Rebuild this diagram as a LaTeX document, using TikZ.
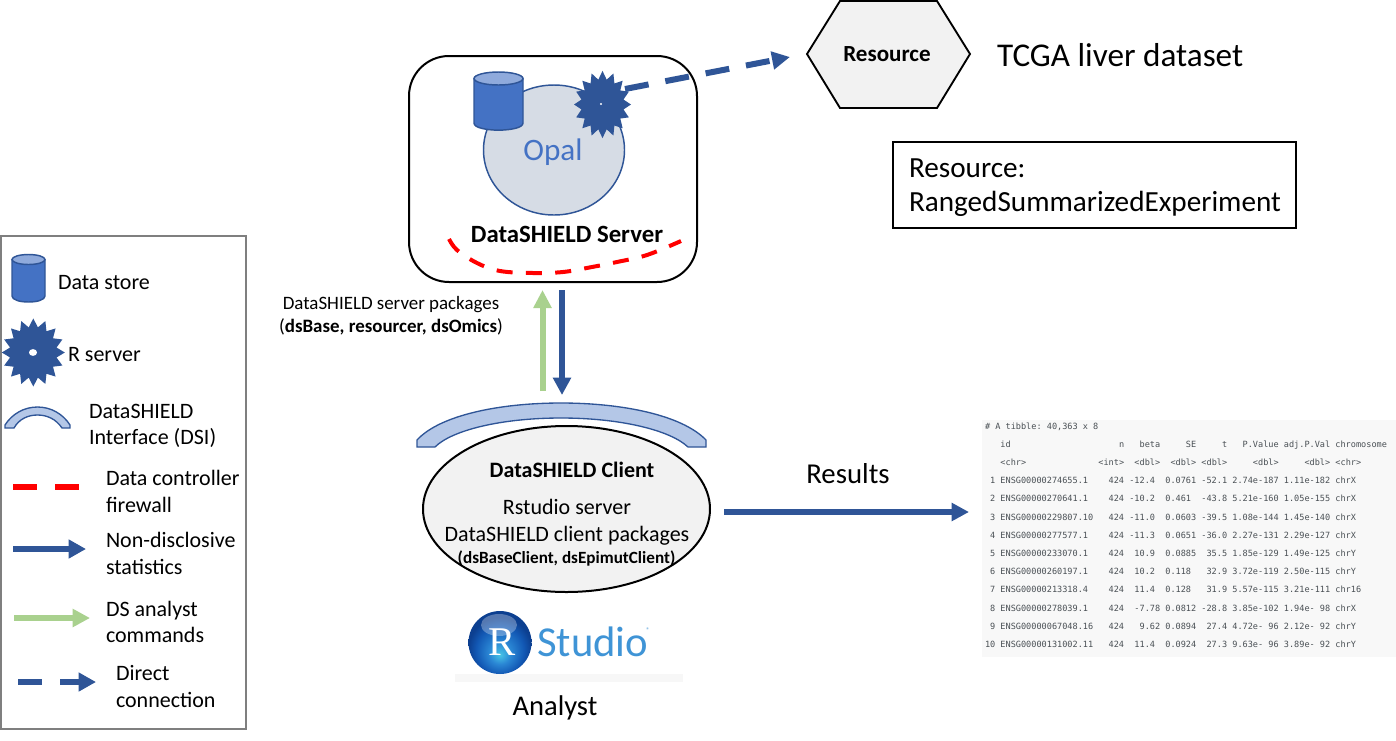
\documentclass[tikz,border=0pt]{standalone}
\usepackage{fontspec}
\setmainfont{Carlito}
\newfontfamily\tbfont{DejaVu Sans Mono}
\newfontfamily\rfont{Liberation Serif}
\usetikzlibrary{shapes.geometric,arrows.meta}
\definecolor{dblue}{HTML}{2F5597}
\definecolor{mblue}{HTML}{4472C4}
\definecolor{lblue}{HTML}{B4C7E7}
\definecolor{topblue}{HTML}{8FAADC}
\definecolor{lgreen}{HTML}{A9D18E}
\definecolor{opalfill}{HTML}{D6DCE5}
\definecolor{pale}{HTML}{F2F2F2}
\definecolor{frame}{HTML}{7F7F7F}
\definecolor{tbtext}{HTML}{4A5055}
\definecolor{tbback}{HTML}{F8F8F8}
\definecolor{studio}{HTML}{3F94D6}
\definecolor{ballA}{HTML}{48C4E6}
\definecolor{ballB}{HTML}{2A86D4}
\definecolor{ballC}{HTML}{1258B4}
\definecolor{ballD}{HTML}{0C3F90}
\pgfdeclareradialshading{rball}{\pgfpoint{0bp}{-10bp}}{%
  color(0bp)=(ballA);color(9bp)=(ballB);color(19bp)=(ballC);color(25bp)=(ballD);color(50bp)=(ballD)}
\tikzset{
  x=0.75pt,y=-0.75pt,
  txt/.style={anchor=base west,inner sep=0pt,outer sep=0pt,font=\fontsize{16.5}{19}\selectfont,text=black},
  ctr/.style={anchor=base,inner sep=0pt,outer sep=0pt,font=\fontsize{16.5}{19}\selectfont,text=black},
  small/.style={ctr,font=\fontsize{14.2}{16}\selectfont},
  tb/.style={anchor=base west,inner sep=0pt,outer sep=0pt,text=tbtext,font=\tbfont\fontsize{6.42}{8}\selectfont},
  rstar/.style={star,star points=16,star point ratio=1.33,fill=dblue,draw=none,inner sep=0pt,minimum size=#1,transform shape},
  blueline/.style={line width=4.5pt,dblue,-{Triangle[length=13pt,width=13pt]}},
  greenline/.style={line width=4.5pt,lgreen,-{Triangle[length=13.5pt,width=13pt]}},
  dashline/.style={line width=4.5pt,dblue,dash pattern=on 18pt off 12.8pt,-{Triangle[length=13.5pt,width=13pt]}},
  legblue/.style={line width=4pt,dblue,-{Triangle[length=13pt,width=13.5pt]}},
  leggreen/.style={line width=4pt,lgreen,-{Triangle[length=13pt,width=13pt]}},
  fwall/.style={line width=3pt,red,dash pattern=on 12pt off 10pt},
  cylfill/.style={fill=mblue,draw=dblue,line width=1.1pt},
  cyltop/.style={fill=topblue,draw=dblue,line width=1.1pt},
  dsi/.style={fill=lblue,draw=dblue,line width=1pt},
}
\begin{document}
\begin{tikzpicture}
\useasboundingbox (0,0) rectangle (1396,740);
\fill[white] (0,0) rectangle (1396,740);

% Legend frame
\draw[frame,line width=1.5pt,fill=white] (1,236) rectangle (246,729);
% Legend cylinder
\draw[cylfill] (12,260) -- (12,296) .. controls (12,304) and (45,304) .. (45,296) -- (45,260) -- cycle;
\draw[cyltop] (28.5,259.5) ellipse[x radius=16.5,y radius=5];
\node[txt] (lgStore) at (58,289) {Data store};
% Legend star
\node[rstar=63*0.75pt,yscale=1.08] (lgStar) at (33.3,352.5) {};
\fill[white] (33,352.5) ellipse[x radius=4,y radius=3.4];
\node[txt] (lgR) at (68,361) {R server};
% Legend DSI
\draw[dsi] (5,428) -- (5,425) .. controls (12,414) and (24,407) .. (37.5,407) .. controls (51,407) and (63,414) .. (70,425) -- (70,428) -- (62,428) .. controls (56,419) and (47,415) .. (37.5,415) .. controls (28,415) and (19,419) .. (14,428) -- cycle;
\node[txt] (lgDsi1) at (89,418) {DataSHIELD};
\node[txt] (lgDsi2) at (89,444) {Interface (DSI)};
% Legend firewall
\coordinate (lgF1) at (13,487); \coordinate (lgF2) at (37,487);
\coordinate (lgF3) at (55,487); \coordinate (lgF4) at (79,487);
\draw[red,line width=4.5pt] (lgF1) -- (lgF2) (lgF3) -- (lgF4);
\node[txt] (lgFw1) at (106,485) {Data controller};
\node[txt] (lgFw2) at (106,512) {firewall};
% Legend arrows
\coordinate (lgB1) at (13,549); \coordinate (lgB2) at (86,549);
\draw[legblue] (lgB1) -- (lgB2);
\node[txt] (lgNd1) at (106,547) {Non-disclosive};
\node[txt] (lgNd2) at (106,574) {statistics};
\coordinate (lgG1) at (14,618); \coordinate (lgG2) at (90,618);
\draw[leggreen] (lgG1) -- (lgG2);
\node[txt] (lgDs1) at (106,616) {DS analyst};
\node[txt] (lgDs2) at (106,642) {commands};
\coordinate (lgD1) at (18,682); \coordinate (lgD2) at (42,682);
\coordinate (lgD3) at (60,682); \coordinate (lgD4) at (96,682);
\draw[line width=4pt,dblue] (lgD1) -- (lgD2);
\draw[legblue] (lgD3) -- (lgD4);
\node[txt] (lgDc1) at (116,680) {Direct};
\node[txt] (lgDc2) at (116,707) {connection};

% Server box
\node[draw=black,line width=1.5pt,rounded corners=30pt,fill=white,inner sep=0pt,
      minimum width=288*0.75pt,minimum height=226*0.75pt] (server) at (553,169) {};
\node[ellipse,draw=dblue,fill=opalfill,line width=1.1pt,inner sep=0pt,
      minimum width=141*0.75pt,minimum height=130*0.75pt] (opal) at (554,150) {};
\node[ctr,font=\fontsize{23.4}{27}\selectfont,text=mblue] (opalT) at (553,160) {Opal};
% Server cylinder
\draw[cylfill] (474,79) -- (474,123) .. controls (474,132.5) and (523,132.5) .. (523,123) -- (523,79) -- cycle;
\draw[cyltop] (498.5,78.5) ellipse[x radius=24.5,y radius=6.5];
% Server star
\node[rstar=57*0.75pt,yscale=1.18] (srvStar) at (602.5,104.5) {};
\fill[white] (601,104) circle[radius=1.2];
\node[ctr,font=\bfseries\fontsize{18.6}{22}\selectfont] (srvT) at (567,242) {DataSHIELD Server};
% Firewall
\draw[fwall] plot[smooth,tension=0.6] coordinates {(449,239) (457,250) (477,263) (500,271) (533,273) (563,272) (592,267) (617,262) (647,255) (681,241)};

% Direct connection
\coordinate (dcS) at (625,89);
\coordinate (dcE) at (790,57);
\draw[dashline] (dcS) -- (dcE);

% Resource
\draw[fill=pale,draw=black,line width=1.4pt] (807,54) -- (840,1) -- (937,1) -- (970,54) -- (937,108) -- (840,108) -- cycle;
\node[ctr,font=\bfseries\fontsize{17.3}{20}\selectfont] (resT) at (887,61) {Resource};
\node[txt,font=\fontsize{24.9}{29}\selectfont] (tcga) at (997,66) {TCGA liver dataset};
\draw[black,line width=1.5pt] (893,142) rectangle (1296,228);
\node[txt,font=\fontsize{21.9}{26}\selectfont] (res1) at (909,177) {Resource:};
\node[txt,font=\fontsize{21.9}{26}\selectfont] (res2) at (909,211) {RangedSummarizedExperiment};

% Up / down arrows
\coordinate (upS) at (542.5,391); \coordinate (upE) at (542.5,290);
\draw[greenline] (upS) -- (upE);
\coordinate (dnS) at (562,290); \coordinate (dnE) at (562,395);
\draw[blueline] (dnS) -- (dnE);
\node[small] (pk1) at (391,309) {DataSHIELD server packages};
\node[small] (pk2) at (391,332) {(\textbf{dsBase, resourcer, dsOmics})};

% Client
\draw[dsi] (417,447) -- (417,440) .. controls (440,415) and (500,403) .. (561,403) .. controls (622,403) and (682,415) .. (706,440) -- (706,447) -- (688,447) .. controls (670,430) and (620,418) .. (561,418) .. controls (502,418) and (452,430) .. (435,447) -- cycle;
\node[ellipse,draw=black,fill=pale,line width=1.5pt,inner sep=0pt,
      minimum width=287*0.75pt,minimum height=166*0.75pt] (client) at (566.5,509) {};
\node[ctr,font=\bfseries\fontsize{16.5}{19}\selectfont] (cl1) at (572,477) {DataSHIELD Client};
\node[ctr] (cl2) at (567,514) {Rstudio server};
\node[ctr] (cl3) at (567,541) {DataSHIELD client packages};
\node[ctr,font=\bfseries\fontsize{12.85}{15}\selectfont] (cl4) at (566.5,563) {(dsBaseClient, dsEpimutClient)};

% RStudio logo
\fill[pale!60] (455,674) rectangle (683,682);
\shade[shading=rball] (500,642.5) circle[radius=31.5];
\fill[white,opacity=0.3] (499,625) ellipse[x radius=18,y radius=11];
\node[ctr,font=\rfont\fontsize{30.6}{33}\selectfont,text=white] (logoR) at (502.5,655) {R};
\node[anchor=base west,inner sep=0pt,font=\fontsize{32}{36}\selectfont,text=studio] (logoS) at (537,656) {Studio};
\node[anchor=base west,inner sep=0pt,font=\fontsize{5}{6}\selectfont,text=studio] (logoC) at (646,632) {®};
\node[ctr,font=\fontsize{21.4}{25}\selectfont] (analyst) at (555,715) {Analyst};

% Results
\node[ctr,font=\fontsize{21.6}{25}\selectfont] (resultsT) at (848,483) {Results};
\coordinate (reS) at (724,512); \coordinate (reE) at (969,512);
\draw[blueline] (reS) -- (reE);

% Table
\fill[tbback] (982,420) rectangle (1396,657);
\node[tb] (t0) at (985,429) {\#~A~tibble:~40,363~x~8};
\node[tb] (t1) at (985,447) {~~~id~~~~~~~~~~~~~~~~~~~~~n~~~beta~~~~~SE~~~~~t~~~P.Value~adj.P.Val~chromosome};
\node[tb] (t2) at (985,465.5) {~~~<chr>~~~~~~~~~~~~~~<int>~~<dbl>~~<dbl>~<dbl>~~~~~<dbl>~~~~~<dbl>~<chr>};
\node[tb] (r1) at (985,483.5) {~1~ENSG00000274655.1~~~~424~-12.4~~0.0761~-52.1~2.74e-187~1.11e-182~chrX};
\node[tb] (r2) at (985,501.5) {~2~ENSG00000270641.1~~~~424~-10.2~~0.461~~-43.8~5.21e-160~1.05e-155~chrX};
\node[tb] (r3) at (985,520) {~3~ENSG00000229807.10~~~424~-11.0~~0.0603~-39.5~1.08e-144~1.45e-140~chrX};
\node[tb] (r4) at (985,538) {~4~ENSG00000277577.1~~~~424~-11.3~~0.0651~-36.0~2.27e-131~2.29e-127~chrX};
\node[tb] (r5) at (985,556) {~5~ENSG00000233070.1~~~~424~~10.9~~0.0885~~35.5~1.85e-129~1.49e-125~chrY};
\node[tb] (r6) at (985,574.5) {~6~ENSG00000260197.1~~~~424~~10.2~~0.118~~~32.9~3.72e-119~2.50e-115~chrY};
\node[tb] (r7) at (985,592.5) {~7~ENSG00000213318.4~~~~424~~11.4~~0.128~~~31.9~5.57e-115~3.21e-111~chr16};
\node[tb] (r8) at (985,611) {~8~ENSG00000278039.1~~~~424~~-7.78~0.0812~-28.8~3.85e-102~1.94e-~98~chrX};
\node[tb] (r9) at (985,629) {~9~ENSG00000067048.16~~~424~~~9.62~0.0894~~27.4~4.72e-~96~2.12e-~92~chrY};
\node[tb] (r10) at (985,647) {10~ENSG00000131002.11~~~424~~11.4~~0.0924~~27.3~9.63e-~96~3.89e-~92~chrY};
\end{tikzpicture}
\end{document}
